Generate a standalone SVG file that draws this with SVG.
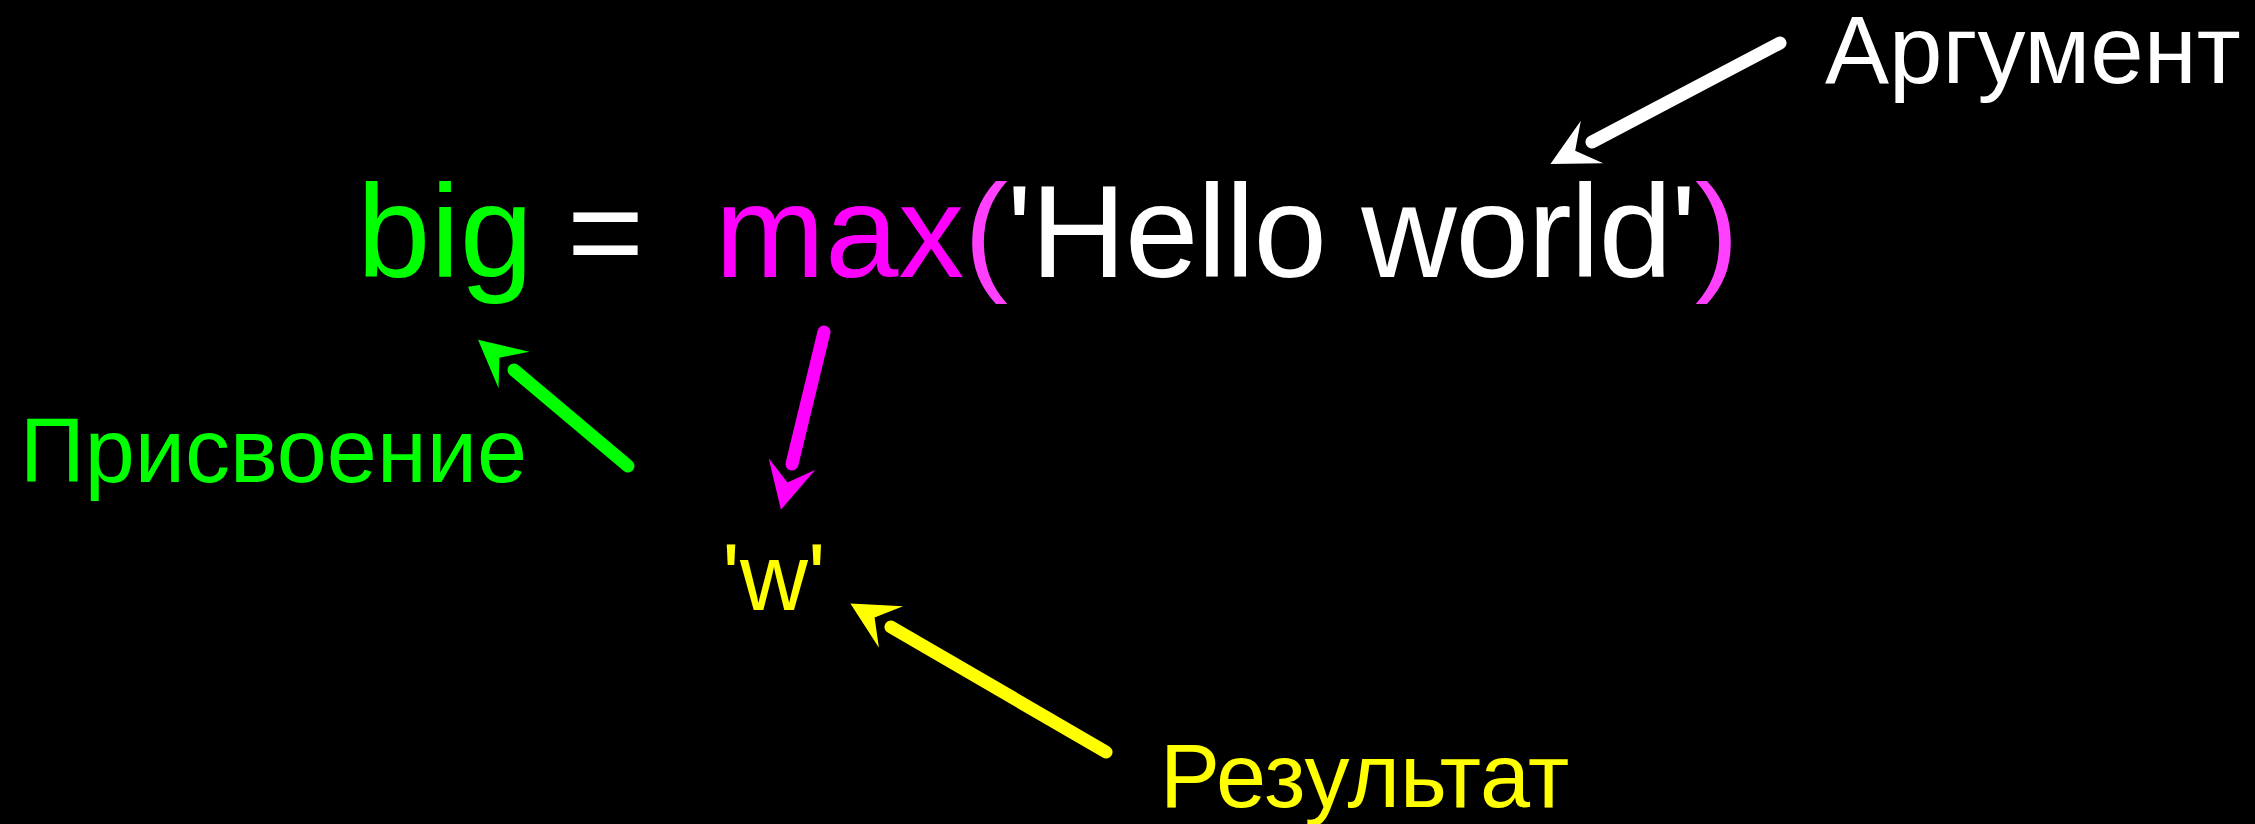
<svg xmlns="http://www.w3.org/2000/svg" width="2255" height="824" viewBox="0 0 2255 824">
<style>
text{font-family:"Liberation Sans",Arial,sans-serif}
.code{font-size:132px}
.lbl{font-size:90px}
.conn{fill:none;stroke-width:13;stroke-linecap:round}
</style>
<defs>
<marker id="ahW" markerUnits="userSpaceOnUse" markerWidth="60" markerHeight="60" refX="0" refY="0" viewBox="-5 -30 60 60" orient="auto" overflow="visible"><path d="M0,-24 L47,0 L0,24 L19,0 Z" fill="#ffffff"/></marker>
<marker id="ahG" markerUnits="userSpaceOnUse" markerWidth="60" markerHeight="60" refX="0" refY="0" viewBox="-5 -30 60 60" orient="auto" overflow="visible"><path d="M0,-24 L47,0 L0,24 L19,0 Z" fill="#00ff00"/></marker>
<marker id="ahM" markerUnits="userSpaceOnUse" markerWidth="60" markerHeight="60" refX="0" refY="0" viewBox="-5 -30 60 60" orient="auto" overflow="visible"><path d="M0,-24 L47,0 L0,24 L19,0 Z" fill="#ff00ff"/></marker>
<marker id="ahY" markerUnits="userSpaceOnUse" markerWidth="60" markerHeight="60" refX="0" refY="0" viewBox="-5 -30 60 60" orient="auto" overflow="visible"><path d="M0,-24 L47,0 L0,24 L19,0 Z" fill="#ffff00"/></marker>
</defs>
<rect x="0" y="0" width="2255" height="824" fill="#000000"/>
<g id="code">
<text class="code" x="357" y="277" fill="#00ff00">big</text>
<text class="code" x="567" y="277" fill="#ffffff">=</text>
<text class="code" x="715" y="277" fill="#ff00ff">max</text>
<text class="code" x="964" y="277" fill="#ff40ff" textLength="775" lengthAdjust="spacing">(<tspan fill="#ffffff">'Hello world'</tspan>)</text>
</g>
<g id="argument"><text x="1825" y="83" fill="#ffffff" style="font-size:96px">Аргумент</text></g>
<g id="assign"><text class="lbl" x="20" y="482" fill="#00ff00">Присвоение</text></g>
<g id="result-value"><text x="722" y="610" fill="#ffff00" style="font-size:94px">'w'</text></g>
<g id="result"><text class="lbl" x="1160" y="807" fill="#ffff00">Результат</text></g>
<g id="connectors">
<line class="conn" x1="1780" y1="43" x2="1592" y2="142" stroke="#ffffff" marker-end="url(#ahW)"/>
<line class="conn" x1="628" y1="466" x2="514" y2="370" stroke="#00ff00" marker-end="url(#ahG)"/>
<line class="conn" x1="824" y1="332" x2="792" y2="464" stroke="#ff00ff" marker-end="url(#ahM)"/>
<line class="conn" x1="1106" y1="752" x2="891" y2="627" stroke="#ffff00" marker-end="url(#ahY)"/>
</g>
</svg>
